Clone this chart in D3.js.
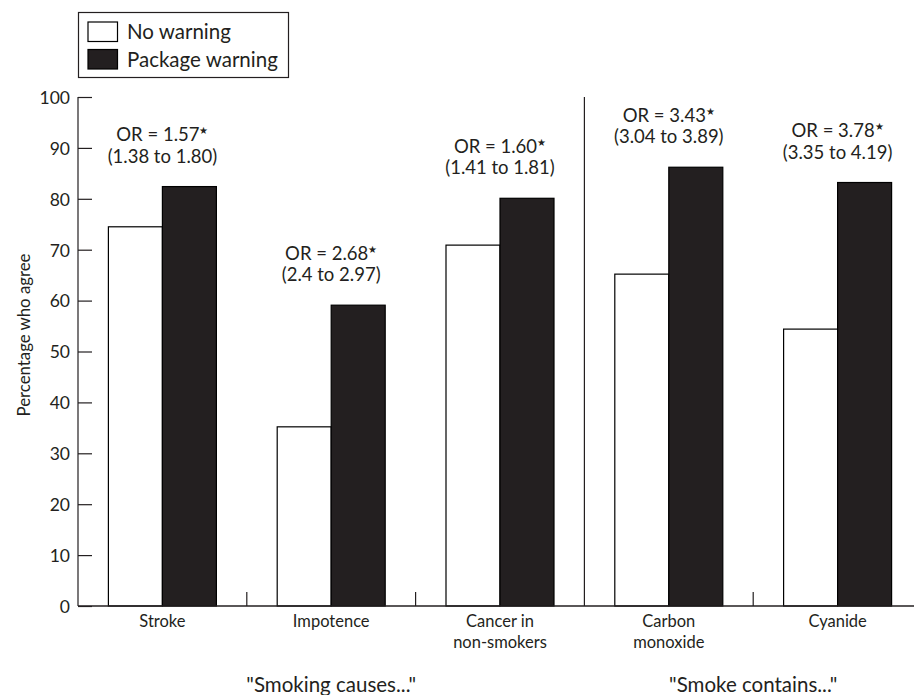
<!DOCTYPE html>
<html>
<head>
<meta charset="utf-8">
<script src="https://cdn.jsdelivr.net/npm/d3@7"></script>
<style>
  html, body { margin: 0; padding: 0; background: #fff; }
  svg text { font-family: Lato, "Open Sans", sans-serif; fill: #231f20; }
</style>
</head>
<body>
<svg id="chart" width="914" height="695"></svg>
<script>
// Categories and their two-line labels
const categories = ["Stroke", "Impotence", "Cancer in non-smokers", "Carbon monoxide", "Cyanide"];
const categoryLines = [["Stroke"], ["Impotence"], ["Cancer in", "non-smokers"], ["Carbon", "monoxide"], ["Cyanide"]];
const series = ["No warning", "Package warning"];

// Percentage who agree
const noWarning = [74.5, 35.2, 70.9, 65.2, 54.4];
const packageWarning = [82.4, 59.1, 80.1, 86.2, 83.2];

// Odds ratios with 95% CI
const oddsRatio = ["1.57", "2.68", "1.60", "3.43", "3.78"];
const ciLow = ["1.38", "2.4", "1.41", "3.04", "3.35"];
const ciHigh = ["1.80", "2.97", "1.81", "3.89", "4.19"];

// Groups of categories
const groupLabels = ["\"Smoking causes...\"", "\"Smoke contains...\""];
const groupMembers = [[0, 1, 2], [3, 4]];

const yTicks = [0, 10, 20, 30, 40, 50, 60, 70, 80, 90, 100];

const ink = "#231f20";
const svg = d3.select("#chart");

const plotLeft = 78, plotRight = 922, plotTop = 97, plotBottom = 606;

const x = d3.scaleBand().domain(categories).range([plotLeft, plotRight]).paddingInner(0).paddingOuter(0);
const bw = x.bandwidth();
const xi = d3.scaleBand().domain(series).range([bw / 2 - 54, bw / 2 + 54]).padding(0);
const y = d3.scaleLinear().domain([0, 100]).range([plotBottom, plotTop]);
const fill = d3.scaleOrdinal().domain(series).range(["#ffffff", ink]);

const rows = categories.map((c, i) => ({
  cat: c, i,
  values: [
    { s: series[0], v: noWarning[i] },
    { s: series[1], v: packageWarning[i] }
  ]
}));

// Bars
const g = svg.append("g");
g.selectAll("g.cat").data(rows).join("g")
  .attr("class", "cat")
  .attr("transform", d => `translate(${x(d.cat)},0)`)
  .selectAll("rect").data(d => d.values).join("rect")
  .attr("x", d => xi(d.s))
  .attr("width", xi.bandwidth())
  .attr("y", d => y(d.v))
  .attr("height", d => y(0) - y(d.v))
  .attr("fill", d => fill(d.s))
  .attr("stroke", "#000")
  .attr("stroke-width", 1.2);

// Y axis with inward ticks
const yAxis = d3.axisRight(y).tickValues(yTicks).tickSize(14).tickFormat(d3.format("d"));
const ya = svg.append("g").attr("transform", `translate(${plotLeft},0)`).call(yAxis);
ya.select(".domain").attr("d", `M0,${plotTop}V${plotBottom}`).attr("stroke", ink).attr("stroke-width", 1.2);
ya.selectAll(".tick line").attr("stroke", ink).attr("stroke-width", 1.2);
ya.selectAll(".tick text")
  .attr("x", -8).attr("dy", "0.36em")
  .attr("text-anchor", "end")
  .attr("font-size", 17.5)
  .attr("fill", ink);

// Baseline
svg.append("line")
  .attr("x1", plotLeft).attr("x2", plotRight)
  .attr("y1", y(0)).attr("y2", y(0))
  .attr("stroke", ink).attr("stroke-width", 1.4);

// Separators between categories: full divider between groups, short ticks elsewhere
categories.slice(1).forEach((c, k) => {
  const isDivider = (k + 1) === groupMembers[1][0];
  svg.append("line")
    .attr("x1", x(c)).attr("x2", x(c))
    .attr("y1", isDivider ? y(100) : y(0) - 14)
    .attr("y2", y(0))
    .attr("stroke", ink).attr("stroke-width", 1.2);
});

// Category labels
rows.forEach(d => {
  const t = svg.append("text")
    .attr("x", x(d.cat) + bw / 2)
    .attr("y", 627)
    .attr("text-anchor", "middle")
    .attr("font-size", 16.5);
  categoryLines[d.i].forEach((line, j) => {
    t.append("tspan").attr("x", x(d.cat) + bw / 2).attr("dy", j === 0 ? 0 : 21).text(line);
  });
});

// Group labels
groupLabels.forEach((lab, k) => {
  const m = groupMembers[k];
  const x0 = x(categories[m[0]]);
  const x1 = x(categories[m[m.length - 1]]) + bw;
  svg.append("text")
    .attr("x", (x0 + x1) / 2)
    .attr("y", 692)
    .attr("text-anchor", "middle")
    .attr("font-size", 20.5)
    .text(lab);
});

// Odds ratio annotations above each pair
rows.forEach(d => {
  const cx = x(d.cat) + bw / 2;
  const base = y(packageWarning[d.i]) - 24;
  const t1 = svg.append("text")
    .attr("x", cx).attr("y", base - 21.5)
    .attr("text-anchor", "middle")
    .attr("font-size", 18.5);
  t1.append("tspan").text(`OR = ${oddsRatio[d.i]}`);
  t1.append("tspan").attr("font-size", 10).attr("dy", -7).text("\u2605");
  svg.append("text")
    .attr("x", cx).attr("y", base)
    .attr("text-anchor", "middle")
    .attr("font-size", 18.5)
    .text(`(${ciLow[d.i]} to ${ciHigh[d.i]})`);
});

// Y axis title
svg.append("text")
  .attr("transform", `translate(30,335) rotate(-90)`)
  .attr("text-anchor", "middle")
  .attr("font-size", 16.8)
  .text("Percentage who agree");

// Legend
const legend = svg.append("g");
legend.append("rect")
  .attr("x", 78.5).attr("y", 12.5).attr("width", 210).attr("height", 65)
  .attr("fill", "none").attr("stroke", ink).attr("stroke-width", 1.2);
series.forEach((s, k) => {
  legend.append("rect")
    .attr("x", 88).attr("y", 22 + k * 27.5).attr("width", 29.5).attr("height", 19.5)
    .attr("fill", fill(s)).attr("stroke", "#000").attr("stroke-width", 1.2);
  legend.append("text")
    .attr("x", 127).attr("y", 38.5 + k * 28)
    .attr("font-size", 20.5)
    .text(s);
});
</script>
</body>
</html>
